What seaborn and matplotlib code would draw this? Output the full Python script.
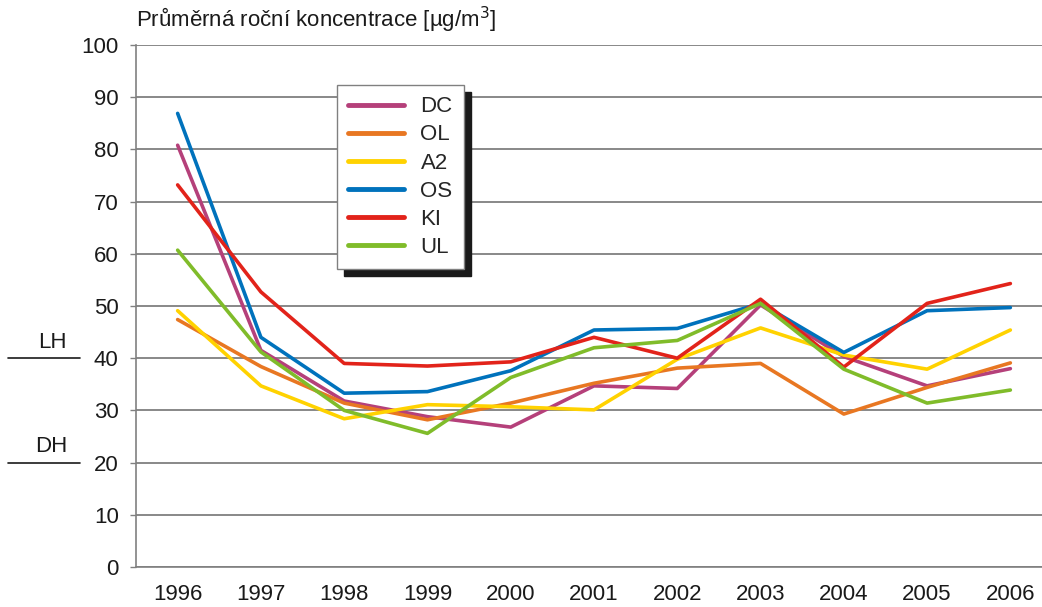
import matplotlib
matplotlib.use("Agg")
import matplotlib.pyplot as plt
import matplotlib.transforms as mtransforms
from matplotlib.lines import Line2D
import pandas as pd
import seaborn as sns

years = [1996, 1997, 1998, 1999, 2000, 2001, 2002, 2003, 2004, 2005, 2006]
stations = ["DC", "OL", "A2", "OS", "KI", "UL"]

dc = [80.8, 41.5, 31.8, 28.8, 26.8, 34.7, 34.2, 50.2, 40.3, 34.7, 38.0]
ol = [47.4, 38.4, 31.4, 28.2, 31.4, 35.2, 38.1, 39.0, 29.3, 34.4, 39.1]
a2 = [49.1, 34.7, 28.4, 31.1, 30.7, 30.1, 39.8, 45.8, 40.6, 37.9, 45.4]
os_ = [86.9, 44.0, 33.3, 33.6, 37.6, 45.4, 45.7, 50.5, 41.1, 49.1, 49.7]
ki = [73.2, 52.7, 39.0, 38.5, 39.3, 44.0, 40.0, 51.3, 38.3, 50.5, 54.3]
ul = [60.7, 41.2, 30.0, 25.6, 36.3, 42.0, 43.4, 50.5, 37.9, 31.4, 33.9]

colors = {"DC": "#B5407A", "OL": "#E87722", "A2": "#FFD200",
          "OS": "#0072BC", "KI": "#E2231A", "UL": "#80BC2A"}

series = {"DC": dc, "OL": ol, "A2": a2, "OS": os_, "KI": ki, "UL": ul}
df = pd.concat([pd.DataFrame({"pos": range(len(years)), "value": v, "station": k})
                for k, v in series.items()], ignore_index=True)

sns.set_style("white")
plt.rcParams["font.family"] = ["Liberation Sans", "DejaVu Sans"]

fig = plt.figure(figsize=(10.42, 6.07), dpi=100)
ax = fig.add_axes([136 / 1042, 40 / 607, 906 / 1042, 522 / 607])

sns.lineplot(data=df, x="pos", y="value", hue="station", hue_order=stations,
             palette=colors, linewidth=2.6, ax=ax, legend=False, zorder=3)

ax.set_xlim(-0.5, 10.38)
ax.set_ylim(0, 100)
ax.set_yticks(range(0, 101, 10))
ax.set_xticks(range(len(years)))
ax.set_xticklabels([str(y) for y in years])
ax.set_xticks([i - 0.5 for i in range(len(years))], minor=True)
ax.tick_params(axis="x", which="major", length=0, pad=12, labelsize=16, colors="#1a1a1a")
ax.tick_params(axis="x", which="minor", length=8, width=1, color="#808080", direction="out")
ax.tick_params(axis="y", length=4.5, width=1, color="#808080", direction="out",
               pad=8, labelsize=16, labelcolor="#1a1a1a", left=True)
ax.set_xlabel("")
ax.set_ylabel("")
ax.grid(axis="y", color="#7f7f7f", linewidth=1.3)
ax.set_axisbelow(True)
for side in ["top", "right"]:
    ax.spines[side].set_visible(False)
for side in ["left", "bottom"]:
    ax.spines[side].set_color("#808080")
    ax.spines[side].set_linewidth(1.2)

ax.text(0.0, 1.02, "Průměrná roční koncentrace [µg/m$^3$]", transform=ax.transAxes,
        ha="left", va="bottom", fontsize=16, color="#1a1a1a")

# limit markers left of the axis
trans = mtransforms.blended_transform_factory(fig.transFigure, ax.transData)
for val, lab in [(40, "LH"), (20, "DH")]:
    ax.add_line(Line2D([8 / 1042, 80 / 1042], [val, val], transform=trans,
                       color="#1a1a1a", linewidth=1.2, clip_on=False))
    ax.text(67 / 1042, val + 1.0, lab, transform=trans, ha="right", va="bottom",
            fontsize=16, color="#1a1a1a")

handles = [Line2D([], [], color=colors[s], linewidth=3.5, solid_capstyle="round") for s in stations]
leg = ax.legend(handles, stations, loc="upper left", bbox_to_anchor=(0.222, 0.923),
                fontsize=16, frameon=True, fancybox=False, handlelength=2.5,
                handletextpad=0.75, labelspacing=0.32, borderpad=0.5, borderaxespad=0,
                shadow={"color": "#1a1a1a", "alpha": 1, "ox": 5, "oy": -5})
leg.get_frame().set_edgecolor("#808080")
leg.get_frame().set_linewidth(1.0)
leg.get_frame().set_facecolor("white")
leg.set_zorder(5)

fig.savefig("out.png", dpi=100)
